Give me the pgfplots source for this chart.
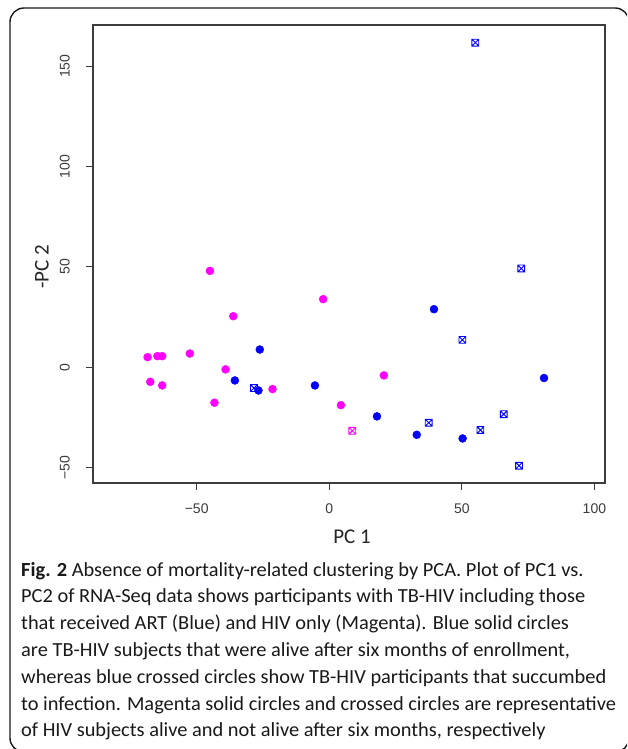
\documentclass[border=0pt]{standalone}
\usepackage{fontspec}
\setmainfont{Carlito}
\newfontfamily\capfont{Carlito}[FakeStretch=1.02]
\newfontfamily\arial{Liberation Sans}
\usepackage{pgfplots}
\pgfplotsset{compat=1.18}
\definecolor{hivmag}{RGB}{255,0,255}
\definecolor{tbblue}{RGB}{0,0,255}
\definecolor{axgray}{RGB}{60,60,60}

% square with a cross, like R's pch 7
\pgfdeclareplotmark{sqx}{%
  \pgfpathrectangle{\pgfpoint{-\pgfplotmarksize}{-\pgfplotmarksize}}{\pgfpoint{2\pgfplotmarksize}{2\pgfplotmarksize}}%
  \pgfpathmoveto{\pgfpoint{-\pgfplotmarksize}{-\pgfplotmarksize}}%
  \pgfpathlineto{\pgfpoint{\pgfplotmarksize}{\pgfplotmarksize}}%
  \pgfpathmoveto{\pgfpoint{-\pgfplotmarksize}{\pgfplotmarksize}}%
  \pgfpathlineto{\pgfpoint{\pgfplotmarksize}{-\pgfplotmarksize}}%
  \pgfusepathqstroke}

\begin{document}
\begin{tikzpicture}[x=1pt,y=1pt]
\clip (0,0) rectangle (627,749);
\fill[white] (0,0) rectangle (627,749);
\draw[line width=1.4pt, rounded corners=14pt, color=black!90] (10,741) rectangle (629,-3);

\begin{axis}[at={(93pt,266pt)}, anchor=south west, scale only axis,
  width=512pt, height=458pt,
  xmin=-89.1, xmax=104, ymin=-57.7, ymax=170.5,
  axis line style={axgray, line width=1.2pt},
  xtick={-50,0,50,100}, xticklabels={−50,0,50,100},
  ytick={-50,0,50,100,150}, yticklabels={−50,0,50,100,150},
  xtick pos=left, ytick pos=left,
  tick align=outside, major tick length=7pt,
  tick style={axgray, line width=1.2pt},
  ticklabel style={font=\arial\fontsize{14}{14}\selectfont, text=axgray, inner sep=0pt},
  xticklabel style={anchor=north, yshift=-14pt},
  yticklabel style={rotate=90, anchor=south, yshift=16pt},
  clip=false]
% magenta solid: HIV only, alive
\addplot[only marks, mark=*, mark size=4pt, draw=hivmag, fill=hivmag] coordinates {
 (-45.0,48.0) (-36.2,25.4) (-2.3,33.9) (-68.5,5.0) (-64.8,5.5) (-63.0,5.5)
 (-52.6,6.8) (-39.1,-1.1) (-67.5,-7.3) (-63.0,-9.1) (-43.3,-17.7) (-21.4,-10.9)
 (4.4,-18.9) (20.6,-4.1)};
% magenta crossed: HIV only, not alive
\addplot[only marks, mark=sqx, mark size=3.4pt, draw=hivmag, line width=0.9pt] coordinates {
 (8.7,-31.7)};
% blue solid: TB-HIV, alive
\addplot[only marks, mark=*, mark size=4pt, draw=tbblue, fill=tbblue] coordinates {
 (-26.2,8.8) (-35.6,-6.6) (-26.7,-11.6) (-5.4,-9.1) (39.5,28.9) (81.0,-5.4)
 (18.0,-24.5) (33.0,-33.7) (50.3,-35.5)};
% blue crossed: TB-HIV, succumbed
\addplot[only marks, mark=sqx, mark size=3.4pt, draw=tbblue, line width=0.9pt] coordinates {
 (-28.4,-10.4) (55.1,161.7) (72.4,49.2) (50.2,13.6) (65.8,-23.4) (37.5,-27.7)
 (57.0,-31.3) (71.6,-49.1)};
\end{axis}

\node[font=\fontsize{21}{21}\selectfont, text=black!85] at (352,212) {PC 1};
\node[font=\fontsize{21}{21}\selectfont, text=black!85, rotate=90] at (42,482) {-PC 2};

\node[anchor=base west, inner sep=0pt, align=left, text=black!90,
  font=\capfont\fontsize{20}{26.8}\selectfont] at (21,12) {%
\textbf{Fig. 2} Absence of mortality-related clustering by PCA. Plot of PC1 vs.\\
PC2 of RNA-Seq data shows participants with TB-HIV including those\\
that received ART (Blue) and HIV only (Magenta). Blue solid circles\\
are TB-HIV subjects that were alive after six months of enrollment,\\
whereas blue crossed circles show TB-HIV participants that succumbed\\
to infection. Magenta solid circles and crossed circles are representative\\
of HIV subjects alive and not alive after six months, respectively};
\end{tikzpicture}
\end{document}
